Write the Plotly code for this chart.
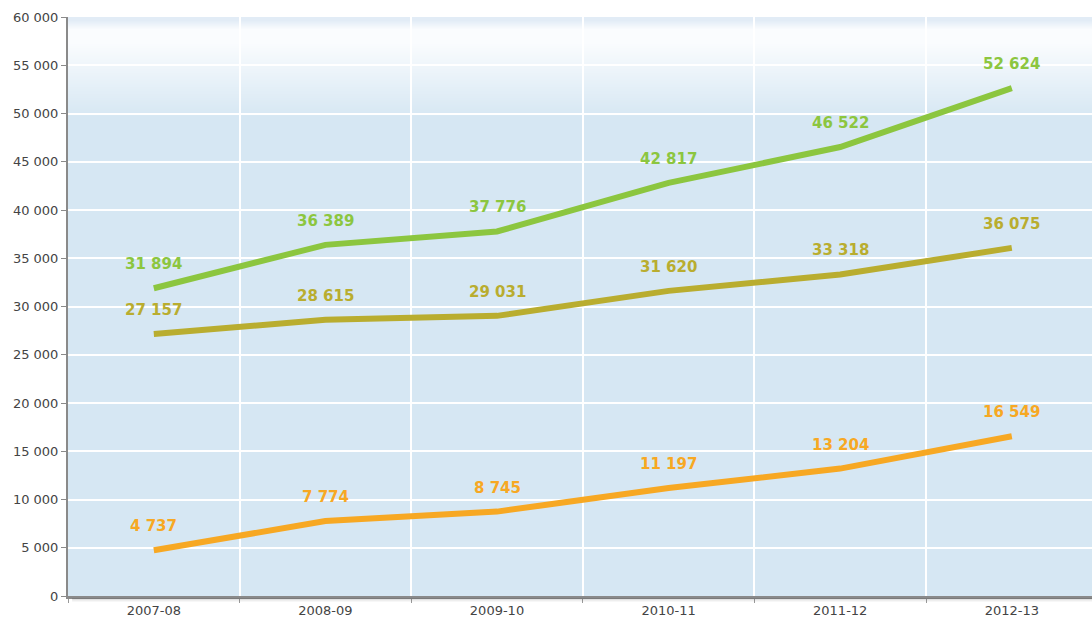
import plotly.graph_objects as go

categories = ["2007-08", "2008-09", "2009-10", "2010-11", "2011-12", "2012-13"]
series_green = [31894, 36389, 37776, 42817, 46522, 52624]
series_olive = [27157, 28615, 29031, 31620, 33318, 36075]
series_orange = [4737, 7774, 8745, 11197, 13204, 16549]
y_ticks = list(range(0, 60001, 5000))
y_tick_labels = [f"{v:,}".replace(",", " ") for v in y_ticks]

colors = {"green": "#8cc63f", "olive": "#b9ad2f", "orange": "#f7a823"}

W, H = 1092, 621
mt, mb, ml, mr = 17, 25, 68, 0
plot_h = H - mt - mb
ymax = 60000

def fmt(v):
    return f"{v:,}".replace(",", " ")

x = list(range(len(categories)))
fig = go.Figure()

annotations = []
for vals, c in [(series_green, colors["green"]), (series_olive, colors["olive"]), (series_orange, colors["orange"])]:
    fig.add_trace(go.Scatter(x=x, y=vals, mode="lines",
                             line=dict(color=c, width=6), hoverinfo="skip"))
    for xi, v in zip(x, vals):
        annotations.append(dict(x=xi, y=v, text=fmt(v), showarrow=False,
                                yshift=24, font=dict(family="DejaVu Sans", size=15, color=c, weight="bold")))

def lerp(a, b, t):
    return tuple(int(round(a[i] + (b[i] - a[i]) * t)) for i in range(3))

base = (214, 231, 243)
white = (250, 252, 254)
edge = (226, 236, 246)
shapes = []
stops = [(0, edge), (3, edge), (12, white), (25, white), (100, base)]
for py in range(0, 100):
    for i in range(len(stops) - 1):
        if stops[i][0] <= py <= stops[i + 1][0]:
            t = (py - stops[i][0]) / max(1, stops[i + 1][0] - stops[i][0])
            col = lerp(stops[i][1], stops[i + 1][1], t)
            break
    y1 = ymax - py / plot_h * ymax
    y0 = ymax - (py + 1.2) / plot_h * ymax
    shapes.append(dict(type="rect", xref="paper", yref="y", x0=0, x1=1, y0=y0, y1=y1,
                       fillcolor=f"rgb{col}", line=dict(width=0), layer="below"))

for k, a in enumerate([0.30, 0.18, 0.10, 0.05]):
    y1 = -(2 + k) / plot_h
    y0 = -(3 + k) / plot_h
    shapes.append(dict(type="rect", xref="paper", yref="paper", x0=0.004, x1=1, y0=y0, y1=y1,
                       fillcolor=f"rgba(90,90,90,{a})", line=dict(width=0), layer="above"))

fig.update_layout(
    width=W, height=H,
    margin=dict(t=mt, b=mb, l=ml, r=mr),
    paper_bgcolor="white",
    plot_bgcolor="rgb(214,231,243)",
    showlegend=False,
    shapes=shapes,
    annotations=annotations,
    font=dict(family="DejaVu Sans", size=13, color="#444444"),
)
fig.update_xaxes(
    range=[-0.5, -0.5 + (W - ml - mr) / 171.6],
    tickvals=x, ticktext=categories, showgrid=False, zeroline=False,
    ticks="", showline=True, linecolor="#8a8a8a", linewidth=3,
    tickfont=dict(size=13, color="#444444"),
    minor=dict(tick0=0.5, dtick=1, showgrid=True, gridcolor="white", gridwidth=1.5,
               ticks="outside", ticklen=4, tickcolor="#999999"),
)
fig.update_yaxes(
    range=[0, ymax], tickvals=y_ticks, ticktext=y_tick_labels,
    showgrid=True, gridcolor="white", gridwidth=1.5, zeroline=False,
    showline=True, linecolor="#8a8a8a", linewidth=2,
    ticks="outside", ticklen=5, tickcolor="#8a8a8a",
    tickfont=dict(size=13, color="#444444"),
)

fig.write_html("out.html", config={"displayModeBar": False},
               post_script="document.body.style.margin='0px';document.body.style.overflow='hidden';")
